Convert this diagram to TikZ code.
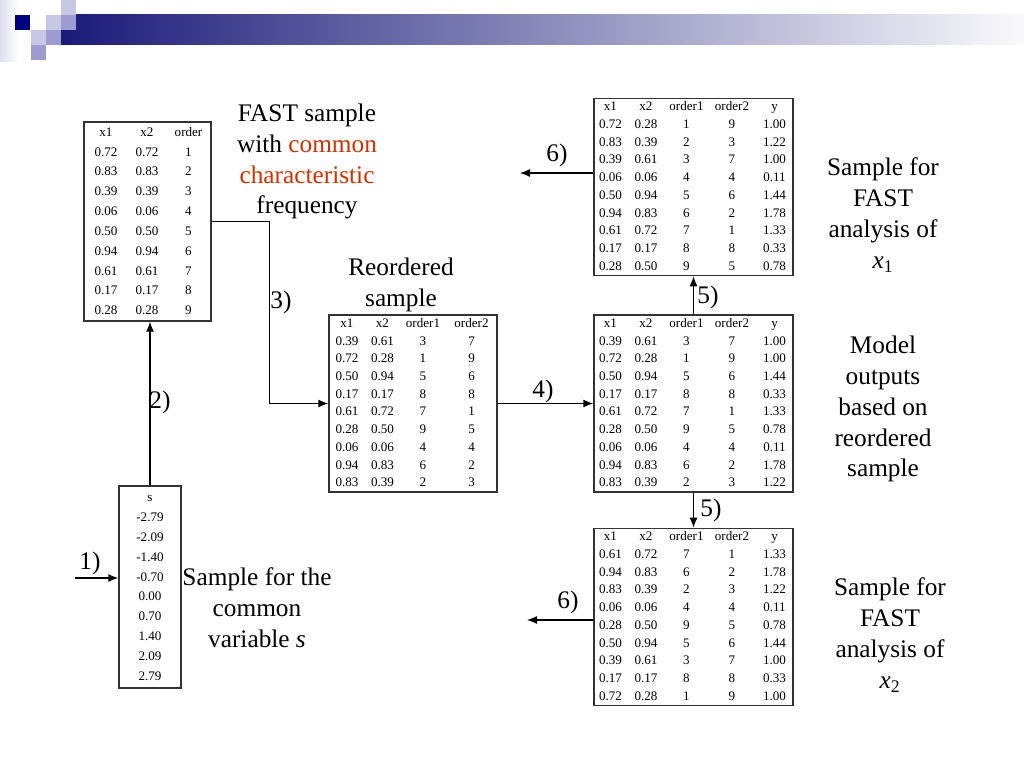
\documentclass[tikz,border=0pt]{standalone}
\usepackage{fontspec}
\setmainfont{Liberation Serif}
\usepackage{array}
\usetikzlibrary{arrows.meta,positioning}
\newcolumntype{C}[1]{>{\centering\arraybackslash}p{#1}}
\setlength{\tabcolsep}{0pt}
\definecolor{navy}{HTML}{000080}
\definecolor{band}{HTML}{1A1A7A}
\definecolor{bandmid}{HTML}{A2A2B8}
\definecolor{bandend}{HTML}{FAFAFC}
\definecolor{lilac}{HTML}{C8C8E4}
\definecolor{midlilac}{HTML}{9C9CD0}
\definecolor{accent}{HTML}{CC3300}
\definecolor{frame}{HTML}{333333}
\tikzset{
  sheet/.style={draw=frame, line width=1pt, inner sep=0pt, minimum height=4.425cm},
  tall/.style={font=\fontsize{9.3}{14.1}\selectfont},
  short/.style={font=\fontsize{9.3}{12.6}\selectfont},
  caption/.style={align=center, font=\fontsize{18}{22}\selectfont},
  tag/.style={font=\fontsize{18}{22}\selectfont, inner sep=1pt},
  arrow/.style={-{Latex[length=2.5mm,width=2mm]}, line width=0.9pt}
}

\begin{document}
\begin{tikzpicture}[x=0.025cm, y=-0.025cm]
\useasboundingbox (0,0) rectangle (1024,768);
% title band
\shade[left color=lilac!60, right color=white] (0,0) rectangle (18,62);
\shade[left color=band, middle color=bandmid, right color=bandend] (61,15) rectangle (1024,45);
\fill[navy] (15,15) rectangle (30,30);
\fill[lilac] (46,15) rectangle (61,30);
\fill[midlilac] (61,15) rectangle (76,30);
\fill[lilac] (61,0) rectangle (76,15);
\fill[lilac] (31,30) rectangle (46,45);
\fill[midlilac] (46,30) rectangle (61,45);
\fill[midlilac] (31,45) rectangle (46,60);

\node[sheet, tall, minimum width=1.55cm, minimum height=5.05cm] (tabS) at (150,587) {%
\begin{tabular}{@{}C{1.45cm}@{}}
s\\ -2.79\\ -2.09\\ -1.40\\ -0.70\\ 0.00\\ 0.70\\ 1.40\\ 2.09\\ 2.79
\end{tabular}};
\node[sheet, tall, minimum width=3.175cm, minimum height=4.975cm] (tabB) at (147.5,221.5) {%
\begin{tabular}{@{}C{1.025cm}C{1.025cm}C{1.05cm}@{}}
x1 & x2 & order\\
0.72 & 0.72 & 1\\ 0.83 & 0.83 & 2\\ 0.39 & 0.39 & 3\\
0.06 & 0.06 & 4\\ 0.50 & 0.50 & 5\\ 0.94 & 0.94 & 6\\
0.61 & 0.61 & 7\\ 0.17 & 0.17 & 8\\ 0.28 & 0.28 & 9
\end{tabular}};
\node[sheet, short, minimum width=4.2cm] (tabC) at (413,403.5) {%
\begin{tabular}{@{}C{0.9cm}C{0.875cm}C{1.15cm}C{1.275cm}@{}}
x1 & x2 & order1 & order2\\
0.39 & 0.61 & 3 & 7\\ 0.72 & 0.28 & 1 & 9\\ 0.50 & 0.94 & 5 & 6\\
0.17 & 0.17 & 8 & 8\\ 0.61 & 0.72 & 7 & 1\\ 0.28 & 0.50 & 9 & 5\\
0.06 & 0.06 & 4 & 4\\ 0.94 & 0.83 & 6 & 2\\ 0.83 & 0.39 & 2 & 3
\end{tabular}};
\node[sheet, short, minimum width=4.975cm] (tabD) at (693.5,403.5) {%
\begin{tabular}{@{}C{0.825cm}C{0.95cm}C{1.075cm}C{1.2cm}C{0.925cm}@{}}
x1 & x2 & order1 & order2 & y\\
0.39 & 0.61 & 3 & 7 & 1.00\\ 0.72 & 0.28 & 1 & 9 & 1.00\\
0.50 & 0.94 & 5 & 6 & 1.44\\ 0.17 & 0.17 & 8 & 8 & 0.33\\
0.61 & 0.72 & 7 & 1 & 1.33\\ 0.28 & 0.50 & 9 & 5 & 0.78\\
0.06 & 0.06 & 4 & 4 & 0.11\\ 0.94 & 0.83 & 6 & 2 & 1.78\\
0.83 & 0.39 & 2 & 3 & 1.22
\end{tabular}};
\node[sheet, short, minimum width=4.975cm] (tabE) at (693.5,187) {%
\begin{tabular}{@{}C{0.825cm}C{0.95cm}C{1.075cm}C{1.2cm}C{0.925cm}@{}}
x1 & x2 & order1 & order2 & y\\
0.72 & 0.28 & 1 & 9 & 1.00\\ 0.83 & 0.39 & 2 & 3 & 1.22\\
0.39 & 0.61 & 3 & 7 & 1.00\\ 0.06 & 0.06 & 4 & 4 & 0.11\\
0.50 & 0.94 & 5 & 6 & 1.44\\ 0.94 & 0.83 & 6 & 2 & 1.78\\
0.61 & 0.72 & 7 & 1 & 1.33\\ 0.17 & 0.17 & 8 & 8 & 0.33\\
0.28 & 0.50 & 9 & 5 & 0.78
\end{tabular}};
\node[sheet, short, minimum width=4.975cm] (tabF) at (693.5,617) {%
\begin{tabular}{@{}C{0.825cm}C{0.95cm}C{1.075cm}C{1.2cm}C{0.925cm}@{}}
x1 & x2 & order1 & order2 & y\\
0.61 & 0.72 & 7 & 1 & 1.33\\ 0.94 & 0.83 & 6 & 2 & 1.78\\
0.83 & 0.39 & 2 & 3 & 1.22\\ 0.06 & 0.06 & 4 & 4 & 0.11\\
0.28 & 0.50 & 9 & 5 & 0.78\\ 0.50 & 0.94 & 5 & 6 & 1.44\\
0.39 & 0.61 & 3 & 7 & 1.00\\ 0.17 & 0.17 & 8 & 8 & 0.33\\
0.72 & 0.28 & 1 & 9 & 1.00
\end{tabular}};

\node[caption] (fast) at (307,161.5) {FAST sample\\with \textcolor{accent}{common}\\\textcolor{accent}{characteristic}\\frequency};
\node[caption] (reord) at (401,285) {Reordered\\sample};
\node[caption] (forX1) at (883,215) {Sample for\\FAST\\analysis of\\\textit{x}\textsubscript{1}};
\node[caption] (model) at (883,409) {Model\\outputs\\based on\\reordered\\sample};
\node[caption] (forX2) at (890,635) {Sample for\\FAST\\analysis of\\\textit{x}\textsubscript{2}};
\node[caption] (forS) at (257,608) {Sample for the\\common\\variable \textit{s}};

\coordinate (in1) at (75,578);
\coordinate (out1) at (520,173);
\coordinate (out2) at (527,620);
\draw[arrow] (in1) -- (in1 -| tabS.west);
\draw[arrow] (tabS.north) -- (tabS.north |- tabB.south);
\draw[arrow] (tabB.east) -- ++(58,0) |- (tabC.west);
\draw[arrow] (tabC.east) -- (tabD.west);
\draw[arrow] (tabD.north) -- (tabE.south);
\draw[arrow] (tabD.south) -- (tabF.north);
\draw[arrow] (tabE.west |- out1) -- (out1);
\draw[arrow] (tabF.west |- out2) -- (out2);

\node[tag] (s1) at (90,563) {1)};
\node[tag] (s2) at (160,402) {2)};
\node[tag] (s3) at (281,302) {3)};
\node[tag] (s4) at (543,391) {4)};
\node[tag] (s5a) at (708,297) {5)};
\node[tag] (s5b) at (711,510) {5)};
\node[tag] (s6a) at (557,155) {6)};
\node[tag] (s6b) at (568,602) {6)};
\end{tikzpicture}
\end{document}
